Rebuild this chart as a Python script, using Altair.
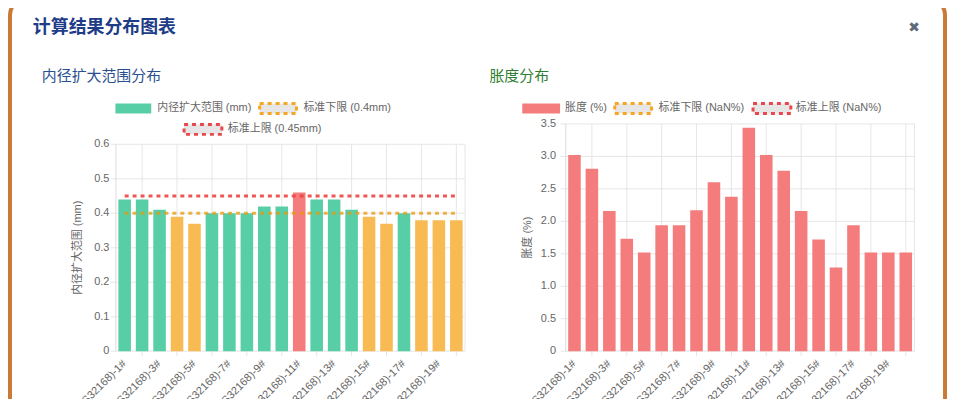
import altair as alt
import pandas as pd

# ---------------- data ----------------
samples = ["(S32168)-1#", "(S32168)-2#", "(S32168)-3#", "(S32168)-4#", "(S32168)-5#",
           "(S32168)-6#", "(S32168)-7#", "(S32168)-8#", "(S32168)-9#", "(S32168)-10#",
           "(S32168)-11#", "(S32168)-12#", "(S32168)-13#", "(S32168)-14#", "(S32168)-15#",
           "(S32168)-16#", "(S32168)-17#", "(S32168)-18#", "(S32168)-19#", "(S32168)-20#"]
expand_mm = [0.44, 0.44, 0.41, 0.39, 0.37, 0.40, 0.40, 0.40, 0.42, 0.42,
             0.46, 0.44, 0.44, 0.41, 0.39, 0.37, 0.40, 0.38, 0.38, 0.38]
swell_pct = [3.02, 2.81, 2.16, 1.73, 1.52, 1.94, 1.94, 2.17, 2.60, 2.38,
             3.44, 3.02, 2.78, 2.16, 1.72, 1.29, 1.94, 1.52, 1.52, 1.52]
lower_mm = 0.40
upper_mm = 0.45
left_ticks = [0, 0.1, 0.2, 0.3, 0.4, 0.5, 0.6]
right_ticks = [0, 0.5, 1.0, 1.5, 2.0, 2.5, 3.0, 3.5]

# ---------------- styling / layout ----------------
FONT = "Liberation Sans, Noto Sans CJK SC, sans-serif"
CJK = "Noto Sans CJK SC, Liberation Sans, sans-serif"
GREEN = "#58cea7"
ORANGE = "#f8bb54"
RED = "#f47c7c"
GRID = "#e6e6e6"
TXT = "#666666"

W, H = 946, 391
LX0, LX1 = 108.5, 459.5
RX0, RX1 = 560.7, 911.3
Y0 = 344
LYTOP = 136
RYTOP = 115.5

one = pd.DataFrame({"k": [0]})


def text(t, x, y, size=11, color=TXT, weight="normal", align="left", font=FONT, angle=0):
    return alt.Chart(one).mark_text(
        fontSize=size, color=color, fontWeight=weight, align=align,
        baseline="middle", font=font, angle=angle
    ).encode(x=alt.value(x), y=alt.value(y), text=alt.value(t))


def box(x0, x1, y0, y1, fill, stroke=None, dash=None, sw=0, radius=0, opacity=1):
    kw = dict(fill=fill, strokeWidth=sw, cornerRadius=radius, opacity=opacity)
    if stroke:
        kw["stroke"] = stroke
    if dash:
        kw["strokeDash"] = dash
    return alt.Chart(one).mark_rect(**kw).encode(
        x=alt.value(x0), x2=alt.value(x1), y=alt.value(y0), y2=alt.value(y1))


# ---------------- decorations ----------------
deco = [
    box(2, 942, -10, H + 40, "white", stroke="#c97a36", sw=4, radius=16),
    text("计算结果分布图表", 25, 19, size=18, color="#1f3c88", weight="bold", font=CJK),
    text("✖", 911, 19.5, size=14, color="#5f6b7a", align="center", font="DejaVu Sans"),
    text("内径扩大范围分布", 34, 67, size=15, color="#2b4f8f", font=CJK),
    text("胀度分布", 484, 67, size=15, color="#2e7d32", font=CJK),
    # left legend
    box(108, 144, 95, 105, GREEN),
    text("内径扩大范围 (mm)", 150, 100),
    box(253, 290, 95, 105, "#e6e6e6", stroke="#f5a623", dash=[4, 4], sw=3),
    text("标准下限 (0.4mm)", 297, 100),
    box(177, 215, 116, 126, "#e6e6e6", stroke="#e8484d", dash=[4, 4], sw=3),
    text("标准上限 (0.45mm)", 221, 121),
    # right legend
    box(517, 555, 95, 105, RED),
    text("胀度 (%)", 560, 100),
    box(610, 647, 95, 105, "#e6e6e6", stroke="#f5a623", dash=[4, 4], sw=3),
    text("标准下限 (NaN%)", 654, 100),
    box(749, 787, 95, 105, "#e6e6e6", stroke="#e8484d", dash=[4, 4], sw=3),
    text("标准上限 (NaN%)", 792, 100),
    # axis titles
    text("内径扩大范围 (mm)", 70, (Y0 + LYTOP) / 2, align="center", angle=270),
    text("胀度 (%)", 523, (Y0 + RYTOP) / 2, align="center", angle=270),
]


def x_enc(field, rng):
    return alt.X(f"{field}:N", sort=samples,
                 scale=alt.Scale(domain=samples, range=rng, paddingInner=0.28, paddingOuter=0.14),
                 axis=None)


def fmt(v):
    return "0" if v == 0 else f"{v:.1f}"


def panel(df, field, xr, ytop, ymax, ticks, lab_x, bars_color, lines=None):
    yscale = alt.Scale(domain=[0, ymax], range=[Y0, ytop], nice=False, zero=True)
    tick_df = pd.DataFrame({"v": ticks, "lab": [fmt(t) for t in ticks]})
    hgrid = alt.Chart(tick_df).mark_rule(color=GRID, strokeWidth=1).encode(
        y=alt.Y("v:Q", scale=yscale, axis=None),
        x=alt.value(xr[0] - 5), x2=alt.value(xr[1]))
    ylabels = alt.Chart(tick_df).mark_text(
        align="right", baseline="middle", fontSize=11, color=TXT, font=FONT).encode(
        y=alt.Y("v:Q", scale=yscale, axis=None), x=alt.value(lab_x), text="lab:N")
    vgrid = alt.Chart(pd.DataFrame({field: samples[1::2]})).mark_rule(color=GRID, strokeWidth=1).encode(
        x=x_enc(field, xr), y=alt.value(ytop), y2=alt.value(Y0 + 5))
    xlabels = alt.Chart(pd.DataFrame({field: samples[::2]})).mark_text(
        align="right", baseline="middle", fontSize=11, color=TXT, font=FONT, angle=315).encode(
        x=x_enc(field, xr), y=alt.value(Y0 + 11), text=f"{field}:N")
    edge_r = alt.Chart(one).mark_rule(color=GRID, strokeWidth=1).encode(
        x=alt.value(xr[1]), y=alt.value(ytop), y2=alt.value(Y0))
    edge_l = alt.Chart(one).mark_rule(color="#dcdcdc", strokeWidth=1).encode(
        x=alt.value(xr[0]), y=alt.value(ytop), y2=alt.value(Y0))
    bars = alt.Chart(df).mark_bar().encode(
        x=x_enc(field, xr),
        y=alt.Y("val:Q", scale=yscale, axis=None),
        color=bars_color)
    layers = [hgrid, vgrid, edge_r, edge_l, ylabels, xlabels, bars]
    if lines is not None:
        for val, col, op in lines:
            ldf = pd.DataFrame({field: samples, "val": [val] * len(samples)})
            layers.append(alt.Chart(ldf).mark_line(color=col, strokeWidth=3, strokeDash=[4, 4],
                                                   opacity=op).encode(
                x=x_enc(field, xr),
                y=alt.Y("val:Q", scale=yscale, axis=None)))
    return alt.layer(*layers)


status = ["high" if v > upper_mm else ("low" if v < lower_mm else "ok") for v in expand_mm]
left_df = pd.DataFrame({"s1": samples, "val": expand_mm, "status": status})
right_df = pd.DataFrame({"s2": samples, "val": swell_pct})

left = panel(left_df, "s1", [LX0, LX1], LYTOP, 0.6, left_ticks, 102,
             alt.Color("status:N", scale=alt.Scale(domain=["low", "ok", "high"],
                                                   range=[ORANGE, GREEN, RED]), legend=None),
             lines=[(lower_mm, "#e89a0c", 0.75), (upper_mm, "#ef4444", 0.9)])
right = panel(right_df, "s2", [RX0, RX1], RYTOP, 3.5, right_ticks, 551,
              alt.value(RED))

chart = alt.layer(*deco, left, right).resolve_scale(
    x="independent", y="independent"
).properties(
    width=W, height=H, padding=0, autosize=alt.AutoSizeParams(type="none"),
    background="white"
).configure_view(stroke=None)

chart.save("out.html", embed_options={"renderer": "svg", "actions": False})
